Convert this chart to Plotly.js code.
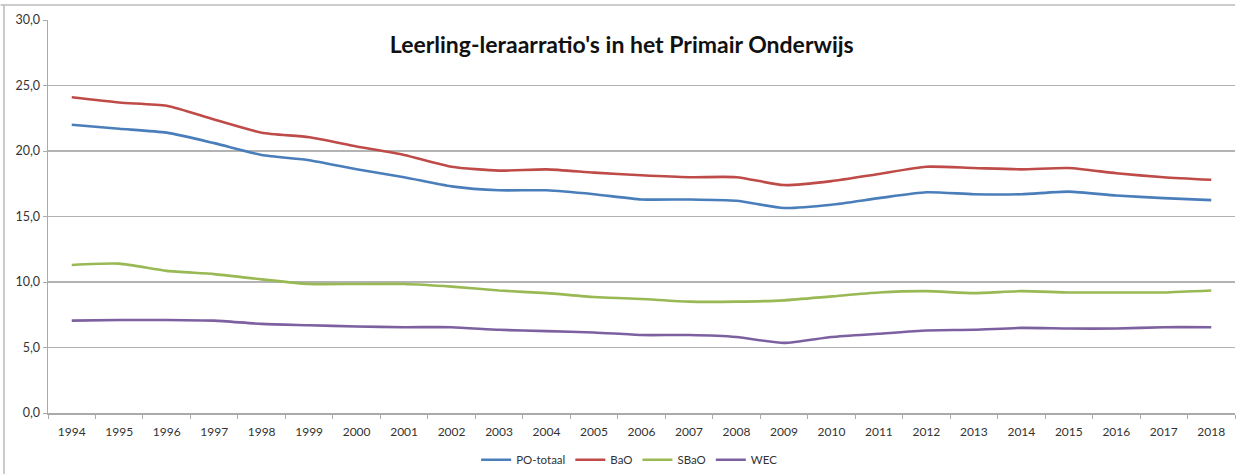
<!DOCTYPE html>
<html>
<head>
<meta charset="utf-8">
<script src="https://cdn.plot.ly/plotly-3.0.1.min.js"></script>
<style>
html,body{margin:0;padding:0;background:#fff;}
#chart{width:1246px;height:474px;}
</style>
</head>
<body>
<div id="chart"></div>
<script>
var years = ["1994","1995","1996","1997","1998","1999","2000","2001","2002","2003","2004","2005","2006","2007","2008","2009","2010","2011","2012","2013","2014","2015","2016","2017","2018"];
var poTotaal = [22.0,21.7,21.4,20.6,19.7,19.3,18.6,18.0,17.3,17.0,17.0,16.7,16.3,16.3,16.2,15.65,15.9,16.4,16.85,16.7,16.7,16.9,16.6,16.4,16.25];
var baO = [24.1,23.7,23.45,22.4,21.4,21.05,20.35,19.7,18.8,18.5,18.6,18.35,18.15,18.0,18.0,17.4,17.7,18.25,18.8,18.7,18.6,18.7,18.3,18.0,17.8];
var sbaO = [11.3,11.4,10.85,10.6,10.2,9.85,9.85,9.85,9.65,9.35,9.15,8.85,8.7,8.5,8.5,8.6,8.9,9.2,9.3,9.15,9.3,9.2,9.2,9.2,9.35];
var wec = [7.05,7.1,7.1,7.05,6.8,6.7,6.6,6.55,6.55,6.35,6.25,6.15,5.95,5.95,5.8,5.35,5.8,6.05,6.3,6.35,6.5,6.45,6.45,6.55,6.55];
var seriesNames = ["PO-totaal","BaO","SBaO","WEC"];
var colors = ["#4A7EBB","#BE4B48","#98B954","#7D60A0"];
var values = [poTotaal, baO, sbaO, wec];
var titleText = "Leerling-leraarratio's in het Primair Onderwijs";

var traces = values.map(function(v,i){
  return {
    x: years, y: v, name: seriesNames[i], type: 'scatter', mode: 'lines',
    line: {color: colors[i], width: 2.6, shape: 'spline', smoothing: 0.6}
  };
});

var layout = {
  width: 1246, height: 474,
  margin: {l: 48, r: 11, t: 20, b: 61},
  paper_bgcolor: '#fff', plot_bgcolor: '#fff',
  separators: ',.',
  font: {family: 'Lato, "Open Sans", sans-serif', size: 12, color: '#333'},
  title: {text: '<b>' + titleText + '</b>', font: {family: 'Lato, "Open Sans", sans-serif', size: 23, color: '#111'},
          x: 0.499, xref: 'container', xanchor: 'center', y: 0.905, yref: 'container', yanchor: 'middle'},
  showlegend: true,
  legend: {orientation: 'h', x: 0.49, xanchor: 'center', xref: 'paper', y: 0.03, yref: 'container', yanchor: 'middle',
           font: {size: 11.5, color: '#333'}, itemwidth: 30, tracegroupgap: 0},
  xaxis: {type: 'category', range: [-0.5, 24.5], showgrid: false, zeroline: false, automargin: false,
          showline: true, linecolor: '#aaa', linewidth: 1.5,
          ticks: 'outside', tickson: 'boundaries', ticklen: 4, tickcolor: '#aaa', tickwidth: 1,
          ticklabelstandoff: 7,
          tickfont: {size: 12, color: '#333'}, fixedrange: true},
  yaxis: {range: [0, 30], tickvals: [0,5,10,15,20,25,30], tickformat: '.1f', automargin: false,
          showgrid: true, gridcolor: '#b3b3b3', gridwidth: 1.6, zeroline: false,
          showline: true, linecolor: '#aaa', linewidth: 1.5,
          ticks: 'outside', ticklen: 4, tickcolor: '#aaa',
          tickfont: {size: 12.5, color: '#333'}, fixedrange: true},
  shapes: [
    {type: 'line', xref: 'paper', yref: 'paper', x0: -0.04, x1: 1.0, y0: 1.038, y1: 1.038, line: {color: '#bbb', width: 1.5}},
    {type: 'line', xref: 'paper', yref: 'paper', x0: -0.0371, x1: -0.0371, y0: 1.038, y1: -0.16, line: {color: '#bbb', width: 1.5}}
  ]
};

Plotly.newPlot('chart', traces, layout, {displayModeBar: false, staticPlot: true});
</script>
</body>
</html>
